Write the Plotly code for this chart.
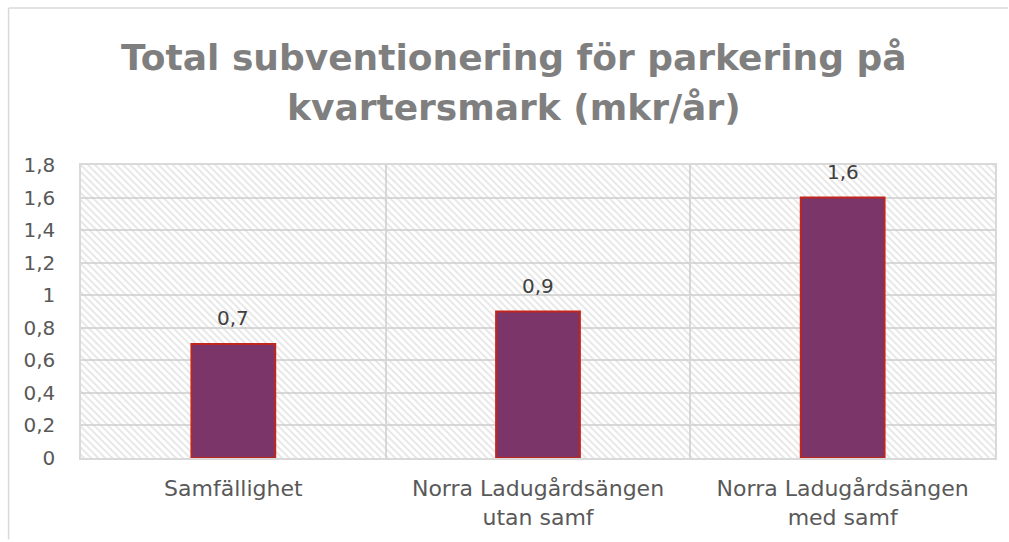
import plotly.graph_objects as go

categories = ["Samfällighet", "Norra Ladugårdsängen<br>utan samf", "Norra Ladugårdsängen<br>med samf"]
values = [0.7, 0.9, 1.6]
y_max = 1.8
labels = [f"{v}".replace(".", ",") for v in values]
title_lines = ["Total subventionering för parkering på", "kvartersmark (mkr/år)"]

FONT = "DejaVu Sans"
GRID = "#d9d9d9"
W, H = 1009, 542
ML, MR, MT, MB = 81, 13, 165, 82
PH = H - MT - MB
PW = W - ML - MR

def py(px):
    return 1 + (MT - px) / PH

def pxx(px):
    return (px - ML) / PW

fig = go.Figure()

# hatched plot-area background
fig.add_trace(go.Bar(
    x=categories, y=[y_max] * len(categories), width=1,
    marker=dict(color="rgba(0,0,0,0)", line=dict(width=0),
                pattern=dict(shape="\\", fgcolor="#cccccc", bgcolor="rgba(0,0,0,0)",
                             size=5, solidity=0.35)),
    hoverinfo="skip", showlegend=False,
))

fig.add_trace(go.Bar(
    x=categories, y=values, width=0.275,
    marker=dict(color="#7b3568", line=dict(color="#c0261c", width=2)),
    showlegend=False,
))

for c, v, t in zip(categories, values, labels):
    fig.add_annotation(x=c, y=v, text=t, showarrow=False, yanchor="bottom", yshift=12,
                       font=dict(family=FONT, size=20, color="#404040"))

for i, line in enumerate(title_lines):
    fig.add_annotation(xref="paper", yref="paper", x=pxx(514), y=py(57 + 50 * i),
                       xanchor="center", yanchor="middle", text=line, showarrow=False,
                       font=dict(family=FONT, size=36, color="#7f7f7f", weight="bold"))

# outer chart border (left and top edges visible)
fig.add_shape(type="line", xref="paper", yref="paper",
              x0=pxx(8.5), x1=pxx(8.5), y0=py(H), y1=py(7),
              line=dict(color=GRID, width=1.5))
fig.add_shape(type="line", xref="paper", yref="paper",
              x0=pxx(8.5), x1=pxx(W), y0=py(7), y1=py(7),
              line=dict(color=GRID, width=1.5))

fig.update_layout(
    width=W, height=H,
    margin=dict(l=ML, r=MR, t=MT, b=MB),
    paper_bgcolor="white", plot_bgcolor="white",
    barmode="overlay",
    separators=",.",
    font=dict(family=FONT, size=20, color="#595959"),
)

fig.update_xaxes(type="category", tickson="boundaries", showgrid=True, gridcolor=GRID, gridwidth=1.5,
                 showline=True, mirror=True, linecolor=GRID, linewidth=1.5,
                 ticks="", range=[-0.5, 2.5], ticklabelstandoff=10,
                 tickfont=dict(size=22, color="#595959"))
fig.update_yaxes(range=[0, y_max], dtick=0.2, showgrid=True, gridcolor=GRID, gridwidth=1.5,
                 showline=True, mirror=True, linecolor=GRID, linewidth=1.5,
                 zeroline=False, ticks="outside", ticklen=20, tickcolor="rgba(0,0,0,0)",
                 tickfont=dict(size=20, color="#595959"))

fig.write_html("out.html", config={"displayModeBar": False},
               post_script="document.body.style.margin='0';")
